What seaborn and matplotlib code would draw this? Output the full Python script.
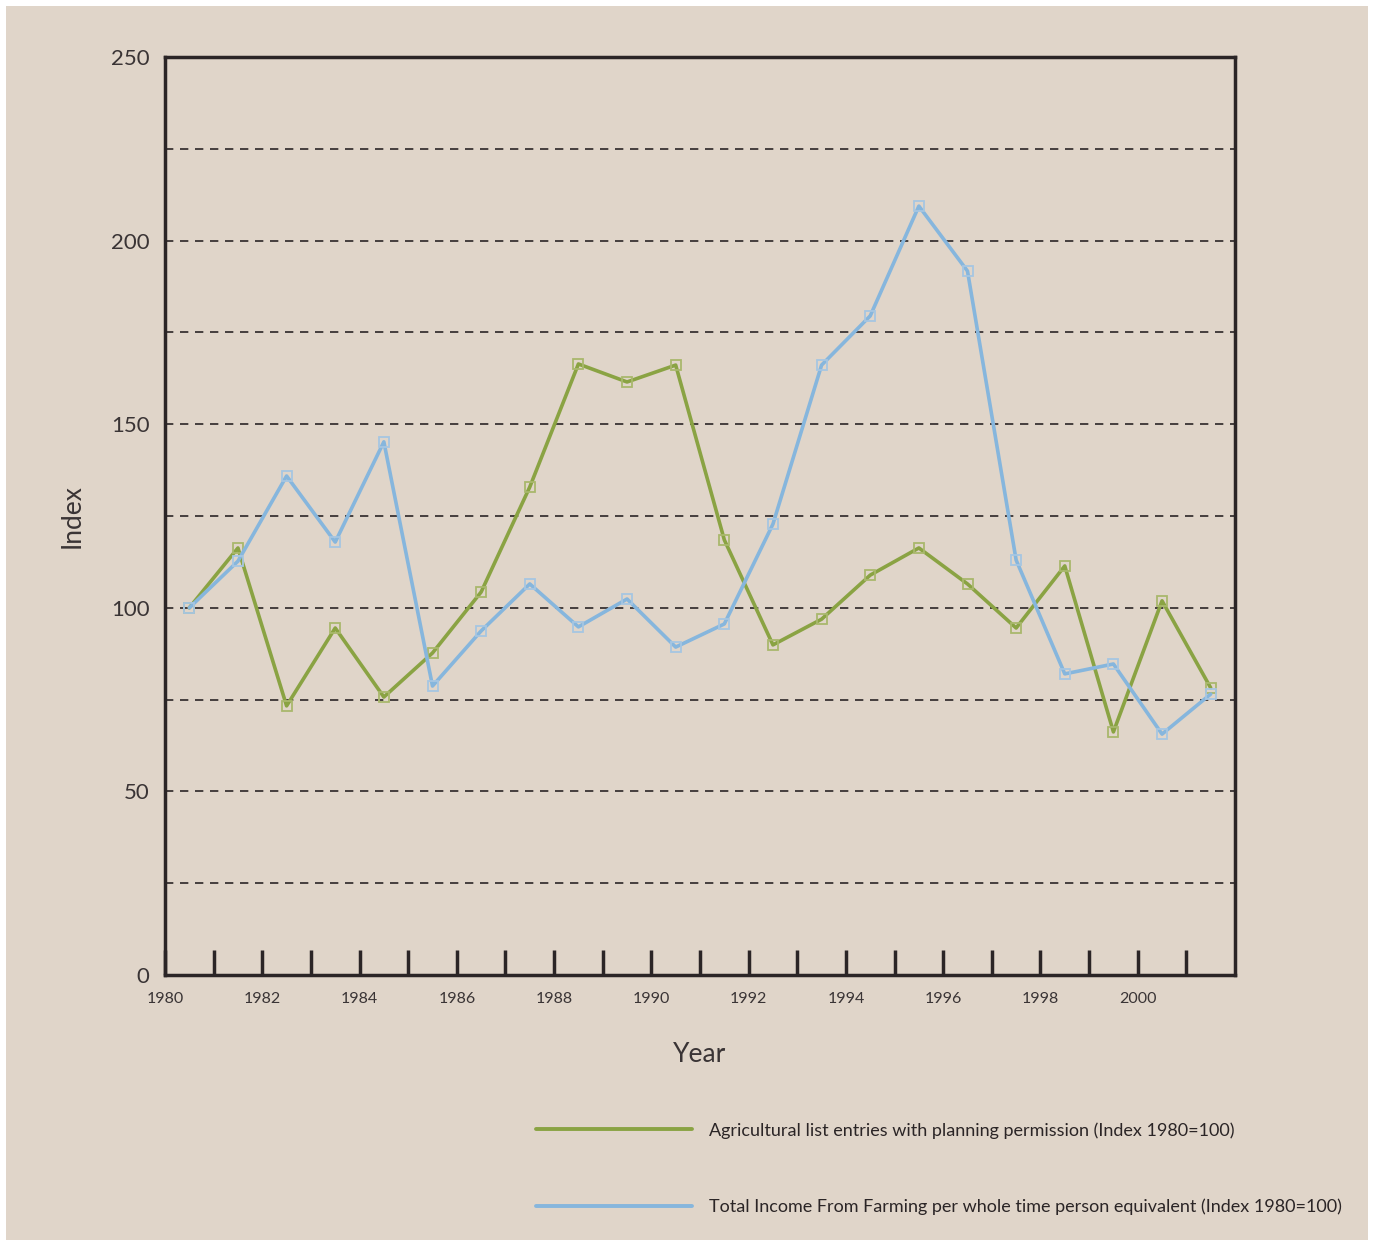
import numpy as np
import pandas as pd
import matplotlib
matplotlib.use("Agg")
import matplotlib.pyplot as plt
from matplotlib.lines import Line2D
from matplotlib.patches import Rectangle
import seaborn as sns

# data (points sit mid-year)
years = [1980.5, 1981.5, 1982.5, 1983.5, 1984.5, 1985.5, 1986.5, 1987.5,
         1988.5, 1989.5, 1990.5, 1991.5, 1992.5, 1993.5, 1994.5, 1995.5,
         1996.5, 1997.5, 1998.5, 1999.5, 2000.5, 2001.5]
agri_entries = [100, 116.3, 73.3, 94.5, 75.7, 87.7, 104.3, 132.9,
                166.4, 161.5, 166.1, 118.5, 89.9, 96.9, 108.9, 116.3,
                106.5, 94.5, 111.4, 66.2, 101.9, 78.2]
farm_income = [100, 112.7, 135.9, 117.9, 145.2, 78.7, 93.7, 106.5,
               94.8, 102.4, 89.3, 95.6, 122.8, 166.1, 179.5, 209.4,
               191.7, 113.0, 82.0, 84.7, 65.6, 76.5]
tick_years = list(range(1980, 2002))
label_agri = "Agricultural list entries with planning permission (Index 1980=100)"
label_income = "Total Income From Farming per whole time person equivalent (Index 1980=100)"

df = pd.DataFrame({"Year": years, "agri": agri_entries, "income": farm_income})

bg = "#e0d5c9"
ink = "#2b2526"
txt = "#3a3435"
green, green_mk = "#8aa343", "#a9b86c"
blue, blue_mk = "#86b6dd", "#a6c6e2"

sns.set_theme(style="white")
plt.rcParams["font.family"] = ["Lato", "DejaVu Sans"]

fig = plt.figure(figsize=(13.74, 12.40), dpi=100, facecolor="white")
fig.patches.append(Rectangle((6 / 1374, 0), 1362 / 1374, 1234 / 1240,
                             transform=fig.transFigure, facecolor=bg,
                             edgecolor="none", zorder=-10))

ax = fig.add_axes([165 / 1374, 1 - 975 / 1240, 1070 / 1374, 918 / 1240])
ax.set_facecolor(bg)

for y in range(25, 250, 25):
    ax.axhline(y, color=ink, lw=1.2, ls=(0, (5, 4)), zorder=1)

sns.lineplot(data=df, x="Year", y="agri", ax=ax, color=green, lw=2.6,
             marker="s", ms=7.5, mfc="none", mec=green_mk, mew=1.3, zorder=3)
sns.lineplot(data=df, x="Year", y="income", ax=ax, color=blue, lw=2.6,
             marker="s", ms=7.5, mfc="none", mec=blue_mk, mew=1.3, zorder=4)

ax.set_xlim(1980, 2002)
ax.set_ylim(0, 250)
# a tick every year, a label every other year
ax.set_xticks(tick_years)
ax.set_xticklabels([str(y) if y % 2 == 0 else "" for y in tick_years])
ax.tick_params(axis="x", bottom=True, direction="in", length=18, width=2.5,
               color=ink, labelsize=11.5, labelcolor=txt, pad=12)
ax.set_yticks(range(0, 251, 50))
ax.tick_params(axis="y", left=False, length=0, labelsize=16, labelcolor=txt, pad=11)

for s in ax.spines.values():
    s.set_visible(True)
    s.set_color(ink)
    s.set_linewidth(2.5)

ax.set_xlabel("Year", fontsize=19, color=txt, labelpad=26)
ax.set_ylabel("Index", fontsize=19, color=txt, labelpad=19)

handles = [Line2D([], [], color=green, lw=2.8), Line2D([], [], color=blue, lw=2.8)]
fig.legend(handles, [label_agri, label_income], loc="upper left",
           bbox_to_anchor=(520 / 1374, 1 - 1106 / 1240), frameon=False,
           fontsize=13, handlelength=8.6, handletextpad=0.95, labelspacing=3.3,
           labelcolor=ink)

fig.savefig("out.png", dpi=100, facecolor="white")
